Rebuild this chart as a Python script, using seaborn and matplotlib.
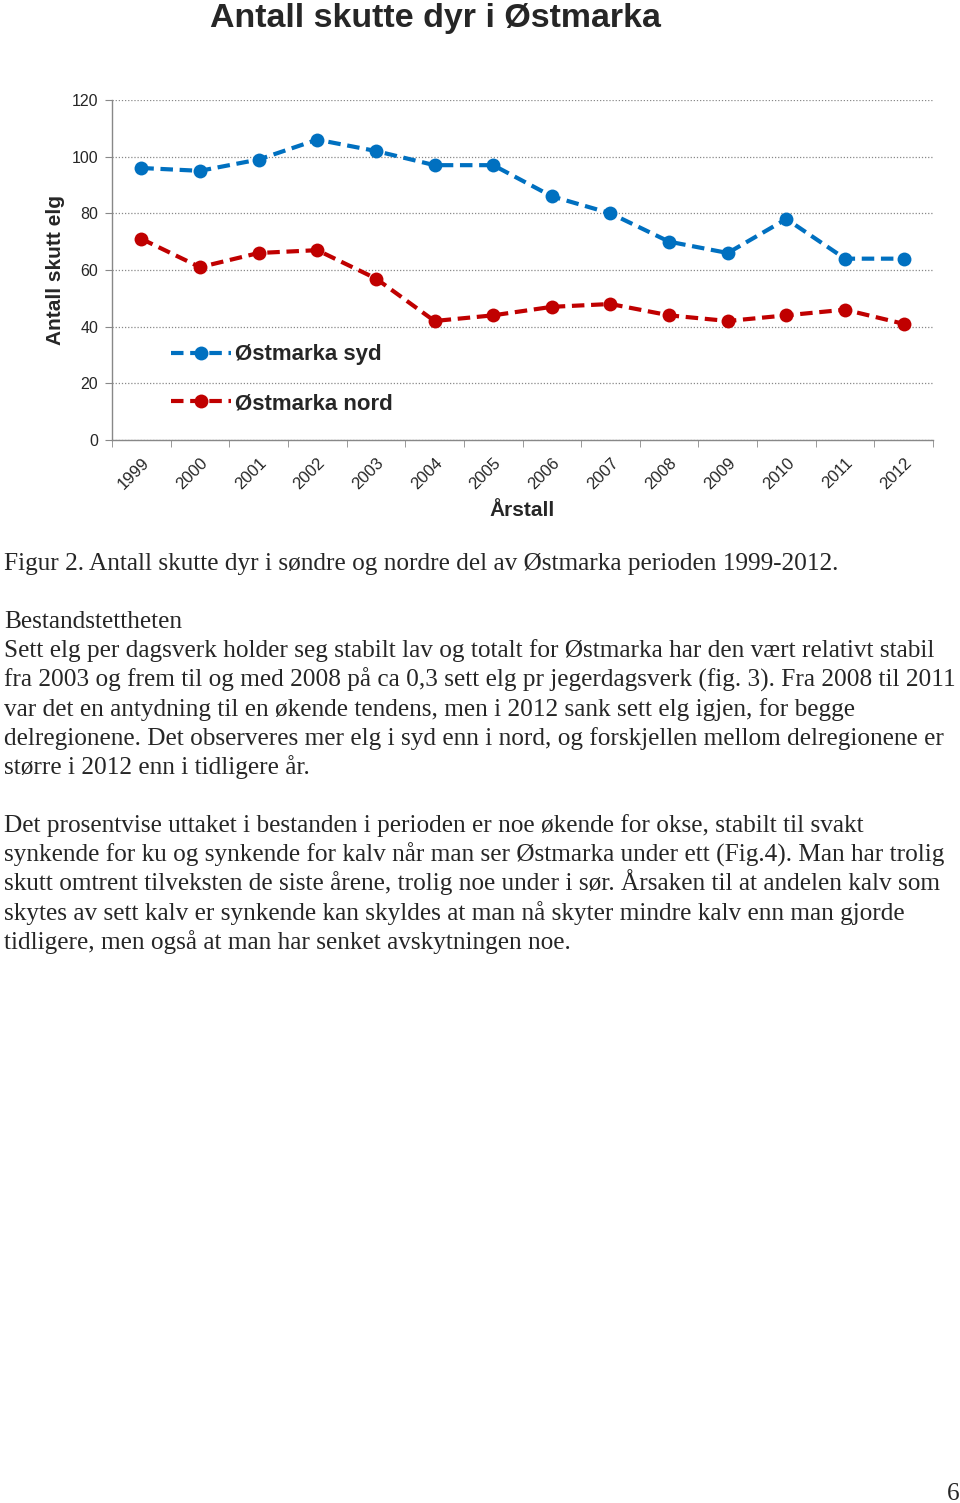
import numpy as np
import pandas as pd
import seaborn as sns
import matplotlib.pyplot as plt

years = ["1999", "2000", "2001", "2002", "2003", "2004", "2005",
         "2006", "2007", "2008", "2009", "2010", "2011", "2012"]
syd = [96, 95, 99, 106, 102, 97, 97, 86, 80, 70, 66, 78, 64, 64]
nord = [71, 61, 66, 67, 57, 42, 44, 47, 48, 44, 42, 44, 46, 41]

df = pd.DataFrame({
    "pos": list(range(len(years))) * 2,
    "antall": syd + nord,
    "omr": ["Østmarka syd"] * len(years) + ["Østmarka nord"] * len(years),
})

sns.set_style("white")
plt.rcParams["font.family"] = ["Liberation Sans", "DejaVu Sans"]

fig = plt.figure(figsize=(9.6, 15.03), dpi=100)
ax = fig.add_axes([112 / 960, 1 - 440 / 1503, (933 - 112) / 960, 340 / 1503])

palette = {"Østmarka syd": "#0070C0", "Østmarka nord": "#C00000"}
sns.lineplot(data=df, x="pos", y="antall", hue="omr", palette=palette,
             marker="o", markersize=10, markeredgewidth=0, linewidth=3,
             dashes=False, ax=ax)
for line in ax.lines:
    line.set_dashes([3, 1.6])

ax.set_xlim(-0.5, len(years) - 0.5)
ax.set_ylim(0, 120)
ax.set_yticks(range(0, 121, 20))
ax.set_xticks(range(len(years)))
ax.set_xticklabels(years, rotation=45, ha="right", rotation_mode="anchor", fontsize=12)
ax.set_xticks(np.arange(-0.5, len(years)), minor=True)
ax.tick_params(axis="x", which="major", length=0, pad=11)
ax.tick_params(axis="x", which="minor", length=5, color="#888888", direction="out", bottom=True)
ax.tick_params(axis="y", length=5, color="#888888", direction="out", left=True, labelsize=11.5, pad=5)
ax.yaxis.grid(True, linestyle=(0, (1, 1.5)), color="#888888", linewidth=0.9)
ax.set_axisbelow(True)
for s in ["top", "right"]:
    ax.spines[s].set_visible(False)
for s in ["left", "bottom"]:
    ax.spines[s].set_color("#888888")
    ax.spines[s].set_linewidth(1)

ax.set_ylabel("Antall skutt elg", fontsize=15, fontweight="bold", labelpad=5)
ax.set_xlabel("Årstall", fontsize=15, fontweight="bold", labelpad=6)

leg = ax.legend(loc="upper left", bbox_to_anchor=(0.048, 0.34), frameon=False,
                prop={"size": 16, "weight": "bold"}, handlelength=2.7,
                labelspacing=1.25, handletextpad=0.15)
for h in leg.legend_handles:
    h.set_dashes([3, 1.6])

fig.text(435 / 960, 1 - 18 / 1503, "Antall skutte dyr i Østmarka", fontsize=24.5,
         fontweight="bold", ha="center", va="center")

serif = ["Liberation Serif", "DejaVu Serif"]
fs = 18.2
step = 29.2

caption = "Figur 2. Antall skutte dyr i søndre og nordre del av Østmarka perioden 1999-2012."
para1 = ["Bestandstettheten",
         "Sett elg per dagsverk holder seg stabilt lav og totalt for Østmarka har den vært relativt stabil",
         "fra 2003 og frem til og med 2008 på ca 0,3 sett elg pr jegerdagsverk (fig. 3). Fra 2008 til 2011",
         "var det en antydning til en økende tendens, men i 2012 sank sett elg igjen, for begge",
         "delregionene. Det observeres mer elg i syd enn i nord, og forskjellen mellom delregionene er",
         "større i 2012 enn i tidligere år."]
para2 = ["Det prosentvise uttaket i bestanden i perioden er noe økende for okse, stabilt til svakt",
         "synkende for ku og synkende for kalv når man ser Østmarka under ett (Fig.4). Man har trolig",
         "skutt omtrent tilveksten de siste årene, trolig noe under i sør. Årsaken til at andelen kalv som",
         "skytes av sett kalv er synkende kan skyldes at man nå skyter mindre kalv enn man gjorde",
         "tidligere, men også at man har senket avskytningen noe."]


def put_lines(lines, y0):
    for i, txt in enumerate(lines):
        fig.text(4 / 960, 1 - (y0 + i * step) / 1503, txt, family=serif,
                 fontsize=fs, va="baseline")


put_lines([caption], 570)
put_lines(para1, 628)
put_lines(para2, 832)

fig.text(953 / 960, 1 - 1500 / 1503, "6", family=serif, fontsize=fs,
         ha="center", va="baseline")

fig.savefig("out.png", dpi=100)
